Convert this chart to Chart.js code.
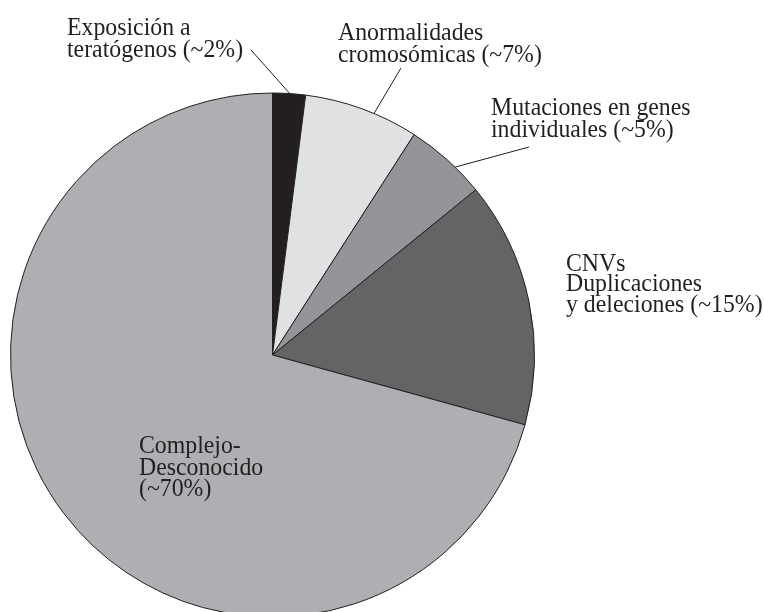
<!DOCTYPE html>
<html>
<head>
<meta charset="utf-8">
<script src="https://cdn.jsdelivr.net/npm/chart.js@4.4.1/dist/chart.umd.min.js"></script>
<style>
  html, body { margin: 0; padding: 0; background: #ffffff; overflow: hidden; }
  #wrap { position: relative; width: 764px; height: 640px; }
</style>
</head>
<body>
<div id="wrap"><canvas id="pie" width="764" height="640"></canvas></div>
<script>
// Causes, in clockwise order starting at 12 o'clock
const categories = [
  'Exposición a teratógenos',
  'Anormalidades cromosómicas',
  'Mutaciones en genes individuales',
  'CNVs Duplicaciones y deleciones',
  'Complejo-Desconocido'
];
const shares = [2, 7, 5, 15, 70];
const sliceColors = ['#231f20', '#e0e1e3', '#939598', '#636466', '#aeafb2'];

// Label text, one array of lines per slice
const labelLines = [
  ['Exposición a', 'teratógenos (~2%)'],
  ['Anormalidades', 'cromosómicas (~7%)'],
  ['Mutaciones en genes', 'individuales (~5%)'],
  ['CNVs', 'Duplicaciones', 'y deleciones (~15%)'],
  ['Complejo-', 'Desconocido', '(~70%)']
];

const INK = '#231f20';
const FONT = '23.8px "Liberation Serif"';
const STRETCH_Y = 1.05; // the type is set slightly tall

// Where each label block sits: left x, first baseline y, line step,
// and for the small slices a leader line running to the slice's rim
// (frac = position along the slice's arc where the line touches it).
const labelPlacement = [
  { x: 67,  y: 35,  step: 21.7, leader: { from: [251, 50], frac: 0.52 } },
  { x: 338, y: 40,  step: 21.7, leader: { from: [401, 68], frac: 0.61 } },
  { x: 491, y: 115, step: 21.7, leader: { from: [529, 147], frac: 0.63 } },
  { x: 566, y: 271, step: 20.4 },
  { x: 139, y: 453, step: 21.6 }
];

const labelPlugin = {
  id: 'sliceLabels',
  afterDatasetsDraw(chart) {
    const ctx = chart.ctx;
    const meta = chart.getDatasetMeta(0);
    ctx.save();
    ctx.fillStyle = INK;
    ctx.strokeStyle = INK;
    ctx.lineWidth = 1;
    ctx.font = FONT + ', "Times New Roman", serif';
    ctx.textAlign = 'left';
    ctx.textBaseline = 'alphabetic';
    labelPlacement.forEach((p, i) => {
      labelLines[i].forEach((line, k) => {
        ctx.save();
        ctx.translate(p.x, p.y + k * p.step);
        ctx.scale(1, STRETCH_Y);
        ctx.fillText(line, 0, 0);
        ctx.restore();
      });
      if (p.leader) {
        const arc = meta.data[i];
        const a = arc.startAngle + (arc.endAngle - arc.startAngle) * p.leader.frac;
        const tx = arc.x + Math.cos(a) * arc.outerRadius;
        const ty = arc.y + Math.sin(a) * arc.outerRadius;
        ctx.beginPath();
        ctx.moveTo(p.leader.from[0], p.leader.from[1]);
        ctx.lineTo(tx, ty);
        ctx.stroke();
      }
    });
    ctx.restore();
  }
};

function drawChart() {
  new Chart(document.getElementById('pie'), {
    type: 'pie',
    data: {
      labels: categories,
      datasets: [{
        data: shares,
        backgroundColor: sliceColors,
        borderColor: INK,
        borderWidth: 1
      }]
    },
    options: {
      responsive: false,
      animation: false,
      events: [],
      layout: { padding: { left: 10, right: 229, top: 92, bottom: 22 } },
      plugins: {
        legend: { display: false },
        tooltip: { enabled: false }
      }
    },
    plugins: [labelPlugin]
  });
}

document.fonts.load(FONT, 'Exposición').then(drawChart, drawChart);
</script>
</body>
</html>
